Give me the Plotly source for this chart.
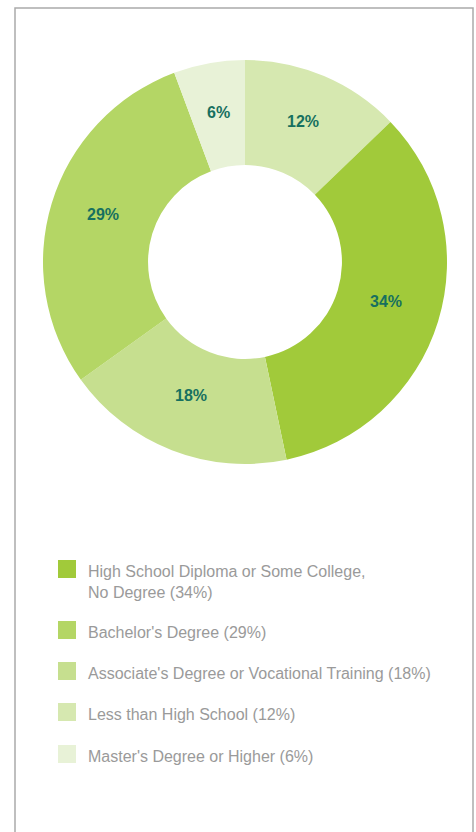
import math
import plotly.graph_objects as go

# Pie order (clockwise from 12 o'clock); sector sizes
pie_labels = ["Less than High School", "High School Diploma or Some College, No Degree",
              "Associate's Degree or Vocational Training", "Bachelor's Degree",
              "Master's Degree or Higher"]
pie_values = [12.8, 33.9, 18.4, 29.2, 5.7]
pie_text = ["12%", "34%", "18%", "29%", "6%"]
pie_colors = ["#d6e8b0", "#a1ca3a", "#c6df8f", "#b4d665", "#e8f2d7"]

# Legend order
legend_labels = ["High School Diploma or Some College,<br>No Degree (34%)",
                 "Bachelor's Degree (29%)",
                 "Associate's Degree or Vocational Training (18%)",
                 "Less than High School (12%)",
                 "Master's Degree or Higher (6%)"]
legend_colors = ["#a1ca3a", "#b4d665", "#c6df8f", "#d6e8b0", "#e8f2d7"]

W, H = 476, 832
CX, CY, R = 245, 262, 202
HOLE = 0.48
LABEL_R = 148  # radius of the value labels, px
LABEL_DY = -4  # small vertical nudge of the value labels, px

fig = go.Figure()
fig.add_trace(go.Pie(
    labels=pie_labels,
    values=pie_values,
    textinfo="none",
    marker=dict(colors=pie_colors, line=dict(width=0)),
    hole=HOLE,
    sort=False,
    direction="clockwise",
    rotation=0,
    showlegend=False,
    domain=dict(x=[(CX - R) / W, (CX + R) / W],
                y=[(H - CY - R) / H, (H - CY + R) / H]),
))

annotations = []
total = sum(pie_values)
cum = 0.0
for v, txt in zip(pie_values, pie_text):
    mid = (cum + v / 2) / total * 2 * math.pi
    cum += v
    px = CX + LABEL_R * math.sin(mid)
    py = CY - LABEL_R * math.cos(mid) + LABEL_DY
    annotations.append(dict(text=f"<b>{txt}</b>", xref="paper", yref="paper",
                            x=px / W, y=(H - py) / H, xanchor="center", yanchor="middle",
                            showarrow=False,
                            font=dict(family="Liberation Sans, Arial, sans-serif", size=16, color="#17705f")))

shapes = [dict(type="rect", xref="paper", yref="paper",
               x0=15 / W, x1=473 / W, y0=-0.05, y1=(H - 8) / H,
               line=dict(color="#aaaaaa", width=1.5), fillcolor="rgba(0,0,0,0)")]
sq_tops = [560, 621, 662, 703, 745]
for i, (lab, col) in enumerate(zip(legend_labels, legend_colors)):
    t = sq_tops[i]
    shapes.append(dict(type="rect", xref="paper", yref="paper",
                       x0=58 / W, x1=76 / W, y0=(H - t - 18) / H, y1=(H - t) / H,
                       line=dict(width=0), fillcolor=col))
    annotations.append(dict(text=lab, xref="paper", yref="paper",
                            x=86 / W, y=(H - t - 0.5) / H, xanchor="left", yanchor="top",
                            align="left", showarrow=False,
                            font=dict(family="Liberation Sans, Arial, sans-serif", size=16, color="#9a9a9a")))

fig.update_layout(
    width=W, height=H,
    margin=dict(l=0, r=0, t=0, b=0),
    paper_bgcolor="white", plot_bgcolor="white",
    shapes=shapes, annotations=annotations,
)

fig.write_html("out.html")
